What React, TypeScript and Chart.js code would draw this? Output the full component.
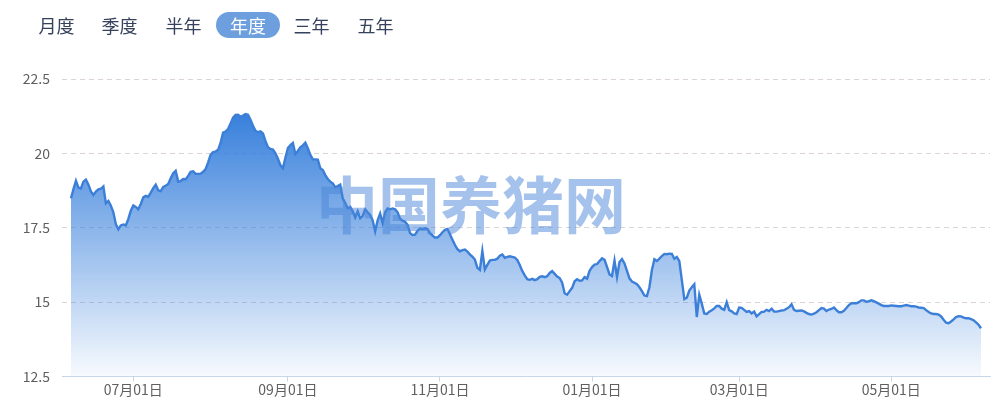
import React, { useEffect, useRef } from 'react';
import { Chart, registerables } from 'chart.js';

Chart.register(...registerables);

// ---- data ----
const startDate = '2022-06-06';
const prices: number[] = [
  18.49, 18.80, 19.08, 18.85, 18.82, 19.05, 19.12, 18.95, 18.72, 18.60,
  18.72, 18.79, 18.81, 18.89, 18.32, 18.40, 18.24, 18.02, 17.62, 17.45,
  17.58, 17.61, 17.58, 17.80, 18.07, 18.25, 18.20, 18.12, 18.30, 18.52,
  18.57, 18.54, 18.68, 18.83, 18.95, 18.76, 18.73, 18.87, 18.91, 18.97,
  19.16, 19.33, 19.41, 19.05, 19.07, 19.14, 19.13, 19.24, 19.38, 19.40,
  19.31, 19.31, 19.32, 19.38, 19.47, 19.70, 19.95, 20.04, 20.06, 20.12,
  20.35, 20.70, 20.73, 20.82, 21.00, 21.20, 21.29, 21.30, 21.23, 21.27,
  21.32, 21.30, 21.13, 20.93, 20.76, 20.71, 20.74, 20.67, 20.42, 20.21,
  20.15, 20.13, 20.00, 19.82, 19.60, 19.50, 19.85, 20.18, 20.28, 20.35,
  19.98, 20.08, 20.20, 20.27, 20.36, 20.17, 19.95, 19.80, 19.80, 19.79,
  19.50, 19.44, 19.27, 19.14, 19.05, 18.99, 18.86, 18.90, 18.95, 18.49,
  18.33, 18.15, 18.20, 18.05, 17.85, 18.05, 17.82, 17.90, 18.12, 18.02,
  17.93, 17.75, 17.38, 17.75, 17.98, 17.66, 18.02, 18.15, 18.12, 18.15,
  18.12, 18.02, 17.80, 17.74, 17.70, 17.60, 17.32, 17.26, 17.27, 17.40,
  17.48, 17.45, 17.48, 17.46, 17.32, 17.24, 17.17, 17.17, 17.25, 17.35,
  17.43, 17.46, 17.28, 17.10, 16.92, 16.78, 16.71, 16.75, 16.77, 16.70,
  16.60, 16.53, 16.43, 16.15, 16.08, 16.72, 16.10, 16.25, 16.40, 16.42,
  16.42, 16.46, 16.56, 16.60, 16.49, 16.52, 16.54, 16.52, 16.50, 16.42,
  16.25, 16.05, 15.90, 15.77, 15.75, 15.78, 15.74, 15.77, 15.85, 15.87,
  15.84, 15.87, 15.98, 16.04, 15.95, 15.86, 15.81, 15.65, 15.30, 15.25,
  15.37, 15.48, 15.70, 15.77, 15.72, 15.73, 15.84, 15.79, 16.05, 16.18,
  16.26, 16.28, 16.38, 16.47, 16.42, 16.18, 15.93, 15.88, 16.40, 15.85,
  16.35, 16.45, 16.30, 16.05, 15.80, 15.69, 15.65, 15.60, 15.50, 15.37,
  15.22, 15.20, 15.50, 16.08, 16.44, 16.38, 16.46, 16.55, 16.62, 16.61,
  16.63, 16.62, 16.46, 16.52, 16.38, 15.74, 15.10, 15.15, 15.39, 15.50,
  15.60, 14.50, 15.25, 14.95, 14.62, 14.60, 14.68, 14.73, 14.79, 14.87,
  14.87, 14.78, 14.74, 15.00, 14.73, 14.69, 14.62, 14.60, 14.82, 14.81,
  14.74, 14.67, 14.70, 14.62, 14.68, 14.52, 14.60, 14.67, 14.68, 14.74,
  14.70, 14.78, 14.68, 14.68, 14.70, 14.72, 14.73, 14.78, 14.83, 14.93,
  14.74, 14.70, 14.71, 14.72, 14.69, 14.64, 14.60, 14.58, 14.61, 14.66,
  14.73, 14.80, 14.78, 14.70, 14.75, 14.77, 14.82, 14.73, 14.66, 14.66,
  14.71, 14.80, 14.90, 14.96, 14.96, 14.96, 15.00, 15.06, 15.06, 15.01,
  15.03, 15.06, 15.03, 14.99, 14.95, 14.90, 14.87, 14.87, 14.87, 14.89,
  14.88, 14.87, 14.86, 14.86, 14.88, 14.90, 14.88, 14.86, 14.86, 14.85,
  14.82, 14.81, 14.80, 14.73, 14.67, 14.62, 14.60, 14.60, 14.58, 14.52,
  14.41, 14.31, 14.29, 14.35, 14.42, 14.50, 14.53, 14.52, 14.48, 14.46,
  14.46, 14.43, 14.39, 14.32, 14.24, 14.12,
];
const tickDates = ['2022-07-01', '2022-09-01', '2022-11-01', '2023-01-01', '2023-03-01', '2023-05-01'];
const tickLabels = ['07月01日', '09月01日', '11月01日', '01月01日', '03月01日', '05月01日'];
const yTicks = [12.5, 15, 17.5, 20, 22.5];
const tabs = ['月度', '季度', '半年', '年度', '三年', '五年'];
const activeTab = '年度';
const watermark = '中国养猪网';

function buildDates(start: string, n: number): string[] {
  const base = new Date(start + 'T00:00:00Z').getTime();
  const out: string[] = [];
  for (let i = 0; i < n; i++) {
    out.push(new Date(base + i * 86400000).toISOString().slice(0, 10));
  }
  return out;
}
const dates = buildDates(startDate, prices.length);
const tickIndices = tickDates.map((d) => dates.indexOf(d));

const FONT = '"Noto Sans CJK SC", "Noto Sans", sans-serif';
const tabLefts = [38, 101, 165, 216, 293, 357];

export default function App() {
  const canvasRef = useRef<HTMLCanvasElement>(null);

  useEffect(() => {
    const canvas = canvasRef.current;
    if (!canvas) return;
    const maxVal = Math.max(...prices);
    const chart = new Chart(canvas, {
      type: 'line',
      data: {
        datasets: [
          {
            data: prices.map((v, i) => ({ x: i, y: v })),
            borderColor: '#3b7fd8',
            borderWidth: 2.4,
            pointRadius: 0,
            tension: 0,
            fill: 'start',
            backgroundColor: (ctx: any) => {
              const c = ctx.chart;
              const area = c.chartArea;
              if (!area) return 'rgba(56,128,220,0.4)';
              const top = c.scales.y.getPixelForValue(maxVal);
              const g = c.ctx.createLinearGradient(0, top, 0, area.bottom);
              g.addColorStop(0, 'rgba(56,128,220,1)');
              g.addColorStop(1, 'rgba(56,128,220,0.04)');
              return g;
            },
          },
        ],
      },
      options: {
        animation: false,
        responsive: false,
        maintainAspectRatio: false,
        layout: { padding: { top: 79, right: 10, left: 0, bottom: 0 } },
        plugins: { legend: { display: false }, tooltip: { enabled: false } },
        font: { family: FONT },
        scales: {
          x: {
            type: 'linear',
            min: -3.6,
            max: prices.length - 1 + 3.6,
            afterBuildTicks: (scale: any) => {
              scale.ticks = tickIndices.map((v) => ({ value: v }));
            },
            afterFit: (scale: any) => {
              scale.height = 37.5;
            },
            ticks: {
              autoSkip: false,
              maxRotation: 0,
              padding: 0,
              color: '#5f5f5f',
              font: { family: FONT, size: 14 },
              callback: (value: any) => {
                const k = tickIndices.indexOf(value);
                return k >= 0 ? tickLabels[k] : '';
              },
            },
            grid: {
              drawOnChartArea: false,
              drawTicks: true,
              tickLength: 5,
              color: '#c8d5e6',
            },
            border: { display: true, color: '#c8d5e6', width: 1 },
          },
          y: {
            min: 12.5,
            max: 22.5,
            afterBuildTicks: (scale: any) => {
              scale.ticks = yTicks.map((v) => ({ value: v }));
            },
            afterFit: (scale: any) => {
              scale.width = 62;
            },
            ticks: {
              padding: 12,
              color: '#5f5f5f',
              font: { family: FONT, size: 14 },
            },
            grid: {
              drawTicks: false,
              color: (ctx: any) => (ctx.tick && ctx.tick.value === 12.5 ? 'rgba(0,0,0,0)' : '#dcd4d4'),
            },
            border: { display: false, dash: [5, 4] },
          },
        },
      },
    } as any);
    return () => chart.destroy();
  }, []);

  return (
    <div style={{ position: 'fixed', left: 0, top: 0, width: 1000, height: 414, background: '#fff', overflow: 'hidden' }}>
      <canvas ref={canvasRef} width={1000} height={414} style={{ position: 'absolute', left: 0, top: 0, width: 1000, height: 414 }} />
      {tabs.map((t, i) => {
        const active = t === activeTab;
        return (
          <span
            key={t}
            style={{
              position: 'absolute',
              left: tabLefts[i],
              top: 12,
              height: 26,
              lineHeight: '26px',
              width: active ? 64 : 37,
              textAlign: 'center',
              fontFamily: FONT,
              fontSize: 18,
              color: active ? '#fff' : '#36425c',
              background: active ? '#6d9fde' : 'transparent',
              borderRadius: 13,
              whiteSpace: 'nowrap',
            }}
          >
            {t}
          </span>
        );
      })}
      <div
        style={{
          position: 'absolute',
          left: 316,
          top: 171,
          fontFamily: FONT,
          fontWeight: 700,
          fontSize: 62,
          lineHeight: '62px',
          color: 'rgba(74,134,216,0.5)',
          whiteSpace: 'nowrap',
          pointerEvents: 'none',
        }}
      >
        {watermark}
      </div>
    </div>
  );
}
